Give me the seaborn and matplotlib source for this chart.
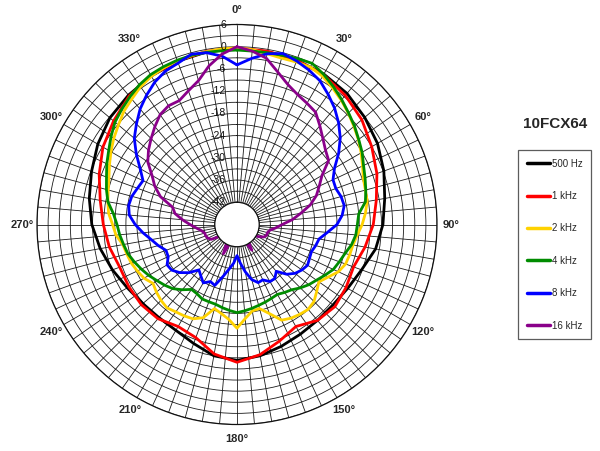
import numpy as np
import pandas as pd
import matplotlib
matplotlib.use("Agg")
import matplotlib.pyplot as plt
import matplotlib.transforms as mtransforms
import seaborn as sns

# Polar response of the 10FCX64 (dB, relative)
model_name = "10FCX64"
freq_labels = ["500 Hz", "1 kHz", "2 kHz", "4 kHz", "8 kHz", "16 kHz"]
line_colors = ["#000000", "#ff0000", "#ffd200", "#008c00", "#0000ff", "#8a008a"]

angles_10 = list(range(0, 360, 10))
angles_5 = list(range(0, 360, 5))

level_500 = [-0.5, -0.6, -0.8, -1.1, -1.8, -3.0, -4.2, -5.8, -7.5, -8.6,
             -10.0, -12.2, -13.5, -14.2, -14.2, -13.8, -13.0, -12.0,
             -11.3, -12.0, -13.8, -15.0, -15.2, -14.8, -13.8, -12.2, -10.5,
             -8.8, -7.5, -6.2, -4.6, -3.2, -2.4, -1.7, -1.1, -0.7]

level_1k = [-0.3, -0.5, -0.8, -1.3, -2.5, -4.0, -6.0, -7.8, -9.8, -11.2,
            -12.9, -14.5, -14.0, -13.5, -14.2, -16.2, -14.5, -12.3,
            -10.8, -12.5, -15.5, -16.2, -14.8, -14.3, -14.3, -14.3, -13.0,
            -11.9, -10.5, -8.4, -6.2, -4.5, -2.7, -1.6, -1.0, -0.5]

level_2k = [-0.3, -0.6, -1.2, -1.5, -1.3, -1.1, -1.8, -3.0, -4.2, -5.5,
            -6.8, -8.0, -9.3, -10.6, -11.7, -12.1, -12.3, -13.2, -14.2, -15.4,
            -16.2, -16.5, -16.8, -17.8, -19.6, -21.0, -19.9, -18.6, -18.1, -18.4,
            -18.8, -19.5, -22.4, -24.5, -24.3, -22.5, -20.0, -22.3, -23.6, -24.5,
            -21.2, -19.9, -19.5, -19.2, -18.6, -19.0, -19.6, -20.3, -19.0, -18.3,
            -17.6, -17.2, -16.7, -15.2, -14.4, -13.2, -12.6, -12.0, -11.2, -10.0,
            -8.7, -7.4, -6.2, -4.8, -3.8, -2.6, -1.8, -1.3, -1.0, -0.8,
            -0.6, -0.4]

level_4k = [-0.9, -1.0, -0.9, -0.7, -0.3, 0.0, -1.2, -2.6, -4.0, -5.4,
            -6.6, -7.9, -9.0, -10.3, -11.2, -12.0, -12.8, -15.0, -15.5, -15.8,
            -16.6, -17.8, -18.6, -19.3, -20.6, -21.8, -22.7, -23.8, -25.0, -25.6,
            -26.2, -26.0, -25.7, -25.4, -25.0, -24.6, -24.2, -24.7, -25.2, -25.7,
            -25.8, -25.8, -26.4, -26.6, -25.0, -23.5, -22.5, -21.6, -20.5, -19.5,
            -18.5, -17.5, -16.9, -16.2, -15.6, -14.5, -12.6, -11.5, -10.5, -9.2,
            -8.0, -6.5, -5.0, -4.0, -3.0, -2.0, -1.3, -1.0, -0.8, -0.7,
            -0.8, -0.9]

level_8k = [-4.9, -3.0, -1.2, -0.2, -1.0, -2.0, -3.2, -5.1, -7.0, -9.2,
            -11.6, -14.5, -17.6, -19.4, -19.6, -18.9, -18.6, -19.5, -21.0, -23.5,
            -25.5, -26.0, -26.6, -26.4, -26.0, -26.6, -27.5, -29.0, -31.5, -30.2,
            -30.2, -31.5, -31.3, -32.6, -35.0, -37.5, -39.6, -37.5, -35.8, -33.5,
            -30.5, -31.0, -29.8, -31.0, -32.0, -29.6, -27.8, -26.5, -26.2, -27.5,
            -27.6, -26.0, -24.5, -22.5, -20.5, -18.8, -18.3, -18.6, -19.4, -20.0,
            -17.8, -14.8, -11.8, -9.6, -7.3, -5.4, -3.6, -2.3, -1.6, -0.4,
            -0.9, -2.4]

level_16k = [0.0, -1.0, -2.4, -5.4, -7.8, -9.3, -10.2, -11.0, -13.2, -15.2,
             -16.8, -17.8, -21.5, -23.5, -25.2, -27.5, -30.5, -33.0, -35.8, -37.5,
             -39.0, -39.5, -39.5, -40.0, -41.5, -45.0, -45.0, -45.0, -45.0, -43.0,
             -40.0, -43.0, -45.0, -45.0, -45.0, -45.0, -45.0, -45.0, -45.0, -45.0,
             -43.0, -39.3, -42.5, -45.0, -45.0, -45.0, -45.0, -42.5, -40.0, -39.3,
             -39.0, -39.0, -38.3, -37.0, -35.3, -33.2, -31.0, -30.0, -26.0, -23.5,
             -21.5, -18.6, -16.8, -15.2, -13.5, -11.8, -11.0, -11.1, -9.6, -7.8,
             -4.5, -1.8]

r_ticks = [6, 0, -6, -12, -18, -24, -30, -36, -42]
angle_labels = [0, 30, 60, 90, 120, 150, 180, 210, 240, 270, 300, 330]


def closed_frame(angles, levels, label):
    # close the loop by repeating the first point at 360 deg
    a = list(angles) + [360]
    v = list(levels) + [levels[0]]
    return pd.DataFrame({"theta": np.deg2rad(a), "level": v, "freq": label})


def main():
    series = [(angles_10, level_500), (angles_10, level_1k), (angles_5, level_2k),
              (angles_5, level_4k), (angles_5, level_8k), (angles_5, level_16k)]
    df = pd.concat([closed_frame(a, v, lab) for (a, v), lab in zip(series, freq_labels)],
                   ignore_index=True)

    sns.set_style("white")
    plt.rcParams["font.family"] = ["Liberation Sans", "DejaVu Sans"]

    fig = plt.figure(figsize=(6, 4.51), dpi=100)
    ax = fig.add_axes([37 / 600, 26.5 / 451, 400 / 600, 400 / 451], projection="polar")
    ax.set_theta_zero_location("N")
    ax.set_theta_direction(-1)

    sns.lineplot(data=df, x="theta", y="level", hue="freq", hue_order=freq_labels,
                 palette=line_colors, estimator=None, sort=False, linewidth=2.0, ax=ax)

    ax.set_ylim(-42, 6)
    ax.set_rorigin(-48)
    ax.set_yticks(np.arange(-42, 7, 3))
    ax.set_yticklabels([])
    ax.set_xticks(np.deg2rad(np.arange(0, 360, 5)))
    ax.set_xticklabels([])
    ax.set_xlabel("")
    ax.set_ylabel("")
    ax.grid(True, color="#1a1a1a", linewidth=0.6)
    for sp in ax.spines.values():
        sp.set_color("#111111")
        sp.set_linewidth(0.9)

    # radial level labels along the 0 deg line
    shift = mtransforms.offset_copy(ax.transData, fig=fig, x=-8.0, y=0, units="points")
    for v in r_ticks:
        ax.text(0, v, str(v), transform=shift, ha="right", va="center",
                fontsize=7.5, color="#111111", zorder=5)

    # angle labels outside the outer ring
    for a in angle_labels:
        ax.text(np.deg2rad(a), 9.9, f"{a}°", ha="center", va="center",
                fontsize=8, fontweight="bold", clip_on=False)

    handles, labels = ax.get_legend_handles_labels()
    if ax.get_legend() is not None:
        ax.get_legend().remove()
    leg = fig.legend(handles, labels, loc="upper left",
                     bbox_to_anchor=(518 / 600, 1 - 150 / 451), frameon=True,
                     fancybox=False, edgecolor="#333333", fontsize=7,
                     labelspacing=2.3, handlelength=2.4, handletextpad=0.15,
                     borderpad=0.9, borderaxespad=0)
    leg.get_frame().set_linewidth(0.9)
    for line in leg.get_lines():
        line.set_linewidth(2.5)

    fig.text(555 / 600, 1 - 124 / 451, model_name, ha="center", va="center",
             fontsize=11, fontweight="bold")

    fig.savefig("out.png", dpi=100)
    plt.close(fig)


if __name__ == "__main__":
    main()
